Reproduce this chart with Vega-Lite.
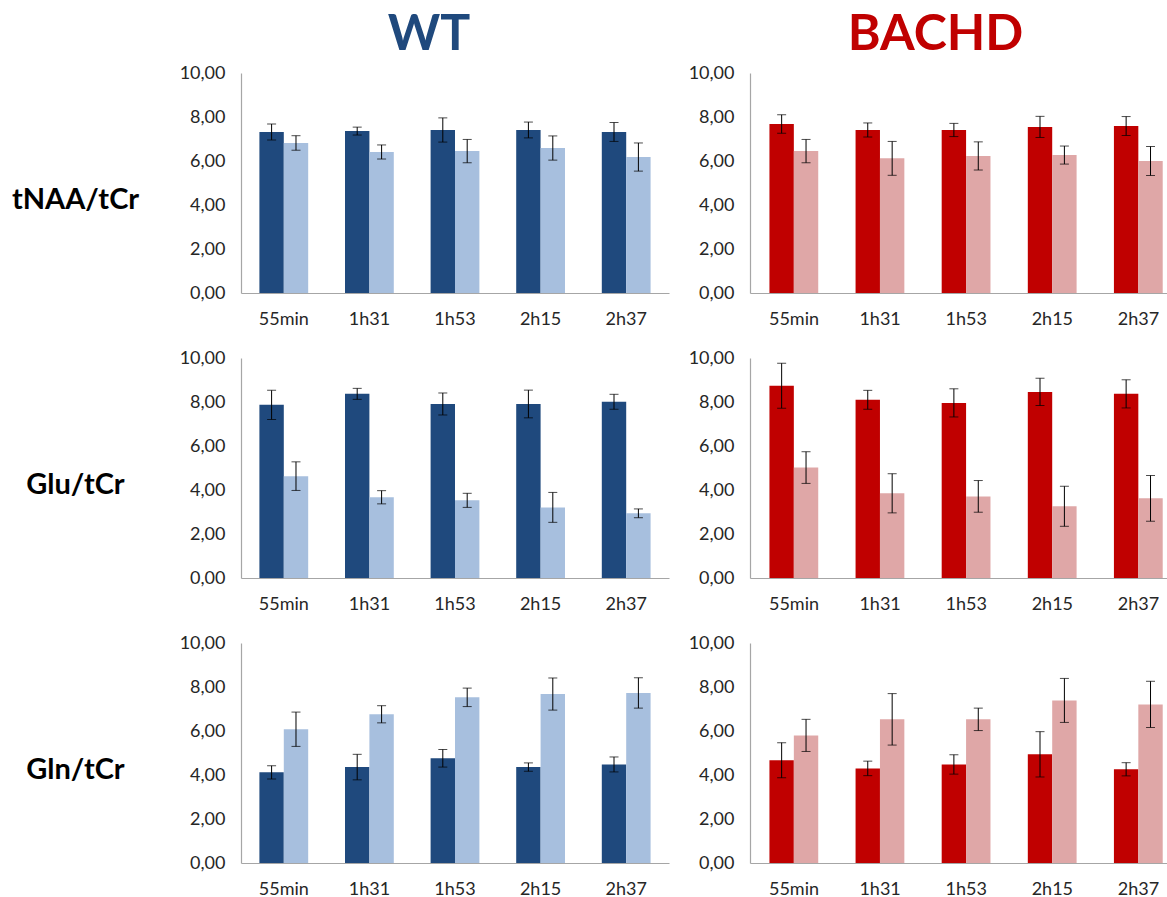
{
  "$schema": "https://vega.github.io/schema/vega-lite/v6.json",
  "padding": {"left": 11, "top": 10, "right": 0, "bottom": 0},
  "background": "white",
  "config": {
    "font": "Lato",
    "view": {"stroke": null},
    "axis": {"grid": false, "ticks": false, "domainColor": "#A6A6A6", "domainWidth": 1.2, "labelFont": "Lato", "labelFontSize": 18, "labelColor": "#262626"},
    "axisX": {"labelAngle": 0, "labelPadding": 17, "title": null},
    "axisY": {"labelPadding": 16}
  },
  "datasets": {
    "d": [
      {"m":"tNAA/tCr","g":"WT","t":"55min","c":"1","v":7.32,"lo":6.96,"hi":7.68},
      {"m":"tNAA/tCr","g":"WT","t":"55min","c":"2","v":6.82,"lo":6.49,"hi":7.15},
      {"m":"tNAA/tCr","g":"WT","t":"1h31","c":"1","v":7.36,"lo":7.18,"hi":7.54},
      {"m":"tNAA/tCr","g":"WT","t":"1h31","c":"2","v":6.41,"lo":6.09,"hi":6.73},
      {"m":"tNAA/tCr","g":"WT","t":"1h53","c":"1","v":7.41,"lo":6.86,"hi":7.96},
      {"m":"tNAA/tCr","g":"WT","t":"1h53","c":"2","v":6.45,"lo":5.92,"hi":6.98},
      {"m":"tNAA/tCr","g":"WT","t":"2h15","c":"1","v":7.41,"lo":7.05,"hi":7.77},
      {"m":"tNAA/tCr","g":"WT","t":"2h15","c":"2","v":6.59,"lo":6.04,"hi":7.14},
      {"m":"tNAA/tCr","g":"WT","t":"2h37","c":"1","v":7.32,"lo":6.89,"hi":7.75},
      {"m":"tNAA/tCr","g":"WT","t":"2h37","c":"2","v":6.18,"lo":5.54,"hi":6.82},
      {"m":"tNAA/tCr","g":"BACHD","t":"55min","c":"1","v":7.68,"lo":7.26,"hi":8.10},
      {"m":"tNAA/tCr","g":"BACHD","t":"55min","c":"2","v":6.45,"lo":5.92,"hi":6.98},
      {"m":"tNAA/tCr","g":"BACHD","t":"1h31","c":"1","v":7.41,"lo":7.09,"hi":7.73},
      {"m":"tNAA/tCr","g":"BACHD","t":"1h31","c":"2","v":6.12,"lo":5.35,"hi":6.89},
      {"m":"tNAA/tCr","g":"BACHD","t":"1h53","c":"1","v":7.41,"lo":7.11,"hi":7.71},
      {"m":"tNAA/tCr","g":"BACHD","t":"1h53","c":"2","v":6.23,"lo":5.59,"hi":6.87},
      {"m":"tNAA/tCr","g":"BACHD","t":"2h15","c":"1","v":7.55,"lo":7.07,"hi":8.03},
      {"m":"tNAA/tCr","g":"BACHD","t":"2h15","c":"2","v":6.27,"lo":5.86,"hi":6.68},
      {"m":"tNAA/tCr","g":"BACHD","t":"2h37","c":"1","v":7.59,"lo":7.16,"hi":8.02},
      {"m":"tNAA/tCr","g":"BACHD","t":"2h37","c":"2","v":6.00,"lo":5.34,"hi":6.66},
      {"m":"Glu/tCr","g":"WT","t":"55min","c":"1","v":7.87,"lo":7.21,"hi":8.53},
      {"m":"Glu/tCr","g":"WT","t":"55min","c":"2","v":4.63,"lo":3.98,"hi":5.28},
      {"m":"Glu/tCr","g":"WT","t":"1h31","c":"1","v":8.37,"lo":8.12,"hi":8.62},
      {"m":"Glu/tCr","g":"WT","t":"1h31","c":"2","v":3.67,"lo":3.37,"hi":3.97},
      {"m":"Glu/tCr","g":"WT","t":"1h53","c":"1","v":7.91,"lo":7.41,"hi":8.41},
      {"m":"Glu/tCr","g":"WT","t":"1h53","c":"2","v":3.53,"lo":3.21,"hi":3.85},
      {"m":"Glu/tCr","g":"WT","t":"2h15","c":"1","v":7.91,"lo":7.28,"hi":8.54},
      {"m":"Glu/tCr","g":"WT","t":"2h15","c":"2","v":3.21,"lo":2.53,"hi":3.89},
      {"m":"Glu/tCr","g":"WT","t":"2h37","c":"1","v":8.01,"lo":7.67,"hi":8.35},
      {"m":"Glu/tCr","g":"WT","t":"2h37","c":"2","v":2.94,"lo":2.74,"hi":3.14},
      {"m":"Glu/tCr","g":"BACHD","t":"55min","c":"1","v":8.74,"lo":7.72,"hi":9.76},
      {"m":"Glu/tCr","g":"BACHD","t":"55min","c":"2","v":5.02,"lo":4.30,"hi":5.74},
      {"m":"Glu/tCr","g":"BACHD","t":"1h31","c":"1","v":8.10,"lo":7.67,"hi":8.53},
      {"m":"Glu/tCr","g":"BACHD","t":"1h31","c":"2","v":3.85,"lo":2.96,"hi":4.74},
      {"m":"Glu/tCr","g":"BACHD","t":"1h53","c":"1","v":7.96,"lo":7.32,"hi":8.60},
      {"m":"Glu/tCr","g":"BACHD","t":"1h53","c":"2","v":3.71,"lo":2.99,"hi":4.43},
      {"m":"Glu/tCr","g":"BACHD","t":"2h15","c":"1","v":8.46,"lo":7.84,"hi":9.08},
      {"m":"Glu/tCr","g":"BACHD","t":"2h15","c":"2","v":3.26,"lo":2.35,"hi":4.17},
      {"m":"Glu/tCr","g":"BACHD","t":"2h37","c":"1","v":8.37,"lo":7.73,"hi":9.01},
      {"m":"Glu/tCr","g":"BACHD","t":"2h37","c":"2","v":3.62,"lo":2.58,"hi":4.66},
      {"m":"Gln/tCr","g":"WT","t":"55min","c":"1","v":4.12,"lo":3.82,"hi":4.42},
      {"m":"Gln/tCr","g":"WT","t":"55min","c":"2","v":6.08,"lo":5.30,"hi":6.86},
      {"m":"Gln/tCr","g":"WT","t":"1h31","c":"1","v":4.36,"lo":3.78,"hi":4.94},
      {"m":"Gln/tCr","g":"WT","t":"1h31","c":"2","v":6.76,"lo":6.37,"hi":7.15},
      {"m":"Gln/tCr","g":"WT","t":"1h53","c":"1","v":4.76,"lo":4.36,"hi":5.16},
      {"m":"Gln/tCr","g":"WT","t":"1h53","c":"2","v":7.53,"lo":7.11,"hi":7.95},
      {"m":"Gln/tCr","g":"WT","t":"2h15","c":"1","v":4.36,"lo":4.17,"hi":4.55},
      {"m":"Gln/tCr","g":"WT","t":"2h15","c":"2","v":7.68,"lo":6.95,"hi":8.41},
      {"m":"Gln/tCr","g":"WT","t":"2h37","c":"1","v":4.48,"lo":4.14,"hi":4.82},
      {"m":"Gln/tCr","g":"WT","t":"2h37","c":"2","v":7.73,"lo":7.04,"hi":8.42},
      {"m":"Gln/tCr","g":"BACHD","t":"55min","c":"1","v":4.67,"lo":3.87,"hi":5.47},
      {"m":"Gln/tCr","g":"BACHD","t":"55min","c":"2","v":5.80,"lo":5.07,"hi":6.53},
      {"m":"Gln/tCr","g":"BACHD","t":"1h31","c":"1","v":4.30,"lo":3.97,"hi":4.63},
      {"m":"Gln/tCr","g":"BACHD","t":"1h31","c":"2","v":6.53,"lo":5.36,"hi":7.70},
      {"m":"Gln/tCr","g":"BACHD","t":"1h53","c":"1","v":4.48,"lo":4.04,"hi":4.92},
      {"m":"Gln/tCr","g":"BACHD","t":"1h53","c":"2","v":6.53,"lo":6.02,"hi":7.04},
      {"m":"Gln/tCr","g":"BACHD","t":"2h15","c":"1","v":4.94,"lo":3.91,"hi":5.97},
      {"m":"Gln/tCr","g":"BACHD","t":"2h15","c":"2","v":7.39,"lo":6.39,"hi":8.39},
      {"m":"Gln/tCr","g":"BACHD","t":"2h37","c":"1","v":4.26,"lo":3.96,"hi":4.56},
      {"m":"Gln/tCr","g":"BACHD","t":"2h37","c":"2","v":7.21,"lo":6.16,"hi":8.26}
    ]
  },
  "data": {"name": "d"},
  "resolve": {"scale": {"color": "independent"}},
  "bounds": "flush",
  "columns": 2,
  "spacing": {"row": 65, "column": 81},
  "concat": [
    {
      "width": 428, "height": 220,
      "title": {"text": "WT", "color": "#1F497D", "fontSize": 50, "fontWeight": "bold", "font": "Lato", "anchor": "middle", "frame": "group", "dx": -26, "offset": -36, "baseline": "alphabetic"},
      "transform": [{"filter": "datum.m === 'tNAA/tCr' && datum.g === 'WT'"}],
      "encoding": {
        "x": {"field": "t", "type": "nominal", "sort": ["55min","1h31","1h53","2h15","2h37"], "scale": {"paddingInner": 0.43, "paddingOuter": 0.215}},
        "xOffset": {"field": "c", "type": "nominal", "scale": {"paddingInner": 0, "paddingOuter": 0}}
      },
      "layer": [
        {"mark": {"type": "bar"}, "encoding": {
          "y": {"field": "v", "type": "quantitative", "scale": {"domain": [0, 10]}, "axis": {"values": [0,2,4,6,8,10], "format": ".2f", "labelExpr": "replace(datum.label, '.', ',')", "title": "tNAA/tCr", "titleAngle": 0, "titleX": -166, "titleY": 126, "titleAlign": "center", "titleBaseline": "middle", "titleFontSize": 29, "titleFontWeight": "bold", "titleColor": "#000000", "titleFont": "Lato"}},
          "color": {"field": "c", "type": "nominal", "scale": {"domain": ["1","2"], "range": ["#1F497D", "#A7BFDE"]}, "legend": null}}},
        {"mark": {"type": "rule", "color": "#000000", "strokeWidth": 1}, "encoding": {"y": {"field": "lo", "type": "quantitative"}, "y2": {"field": "hi"}}},
        {"mark": {"type": "tick", "color": "#000000", "size": 9, "thickness": 1}, "encoding": {"y": {"field": "lo", "type": "quantitative"}}},
        {"mark": {"type": "tick", "color": "#000000", "size": 9, "thickness": 1}, "encoding": {"y": {"field": "hi", "type": "quantitative"}}}
      ]
    },
    {
      "width": 417, "height": 220,
      "title": {"text": "BACHD", "color": "#C00000", "fontSize": 50, "fontWeight": "bold", "font": "Lato", "anchor": "middle", "frame": "group", "dx": -23, "offset": -36, "baseline": "alphabetic"},
      "transform": [{"filter": "datum.m === 'tNAA/tCr' && datum.g === 'BACHD'"}],
      "encoding": {
        "x": {"field": "t", "type": "nominal", "sort": ["55min","1h31","1h53","2h15","2h37"], "scale": {"paddingInner": 0.43, "paddingOuter": 0.136, "align": 0.83}},
        "xOffset": {"field": "c", "type": "nominal", "scale": {"paddingInner": 0, "paddingOuter": 0}}
      },
      "layer": [
        {"mark": {"type": "bar"}, "encoding": {
          "y": {"field": "v", "type": "quantitative", "scale": {"domain": [0, 10]}, "axis": {"values": [0,2,4,6,8,10], "format": ".2f", "labelExpr": "replace(datum.label, '.', ',')", "title": null}},
          "color": {"field": "c", "type": "nominal", "scale": {"domain": ["1","2"], "range": ["#C00000", "#DFA7A7"]}, "legend": null}}},
        {"mark": {"type": "rule", "color": "#000000", "strokeWidth": 1}, "encoding": {"y": {"field": "lo", "type": "quantitative"}, "y2": {"field": "hi"}}},
        {"mark": {"type": "tick", "color": "#000000", "size": 9, "thickness": 1}, "encoding": {"y": {"field": "lo", "type": "quantitative"}}},
        {"mark": {"type": "tick", "color": "#000000", "size": 9, "thickness": 1}, "encoding": {"y": {"field": "hi", "type": "quantitative"}}}
      ]
    },
    {
      "width": 428, "height": 220,
      "transform": [{"filter": "datum.m === 'Glu/tCr' && datum.g === 'WT'"}],
      "encoding": {
        "x": {"field": "t", "type": "nominal", "sort": ["55min","1h31","1h53","2h15","2h37"], "scale": {"paddingInner": 0.43, "paddingOuter": 0.215}},
        "xOffset": {"field": "c", "type": "nominal", "scale": {"paddingInner": 0, "paddingOuter": 0}}
      },
      "layer": [
        {"mark": {"type": "bar"}, "encoding": {
          "y": {"field": "v", "type": "quantitative", "scale": {"domain": [0, 10]}, "axis": {"values": [0,2,4,6,8,10], "format": ".2f", "labelExpr": "replace(datum.label, '.', ',')", "title": "Glu/tCr", "titleAngle": 0, "titleX": -166, "titleY": 126, "titleAlign": "center", "titleBaseline": "middle", "titleFontSize": 29, "titleFontWeight": "bold", "titleColor": "#000000", "titleFont": "Lato"}},
          "color": {"field": "c", "type": "nominal", "scale": {"domain": ["1","2"], "range": ["#1F497D", "#A7BFDE"]}, "legend": null}}},
        {"mark": {"type": "rule", "color": "#000000", "strokeWidth": 1}, "encoding": {"y": {"field": "lo", "type": "quantitative"}, "y2": {"field": "hi"}}},
        {"mark": {"type": "tick", "color": "#000000", "size": 9, "thickness": 1}, "encoding": {"y": {"field": "lo", "type": "quantitative"}}},
        {"mark": {"type": "tick", "color": "#000000", "size": 9, "thickness": 1}, "encoding": {"y": {"field": "hi", "type": "quantitative"}}}
      ]
    },
    {
      "width": 417, "height": 220,
      "transform": [{"filter": "datum.m === 'Glu/tCr' && datum.g === 'BACHD'"}],
      "encoding": {
        "x": {"field": "t", "type": "nominal", "sort": ["55min","1h31","1h53","2h15","2h37"], "scale": {"paddingInner": 0.43, "paddingOuter": 0.136, "align": 0.83}},
        "xOffset": {"field": "c", "type": "nominal", "scale": {"paddingInner": 0, "paddingOuter": 0}}
      },
      "layer": [
        {"mark": {"type": "bar"}, "encoding": {
          "y": {"field": "v", "type": "quantitative", "scale": {"domain": [0, 10]}, "axis": {"values": [0,2,4,6,8,10], "format": ".2f", "labelExpr": "replace(datum.label, '.', ',')", "title": null}},
          "color": {"field": "c", "type": "nominal", "scale": {"domain": ["1","2"], "range": ["#C00000", "#DFA7A7"]}, "legend": null}}},
        {"mark": {"type": "rule", "color": "#000000", "strokeWidth": 1}, "encoding": {"y": {"field": "lo", "type": "quantitative"}, "y2": {"field": "hi"}}},
        {"mark": {"type": "tick", "color": "#000000", "size": 9, "thickness": 1}, "encoding": {"y": {"field": "lo", "type": "quantitative"}}},
        {"mark": {"type": "tick", "color": "#000000", "size": 9, "thickness": 1}, "encoding": {"y": {"field": "hi", "type": "quantitative"}}}
      ]
    },
    {
      "width": 428, "height": 220,
      "transform": [{"filter": "datum.m === 'Gln/tCr' && datum.g === 'WT'"}],
      "encoding": {
        "x": {"field": "t", "type": "nominal", "sort": ["55min","1h31","1h53","2h15","2h37"], "scale": {"paddingInner": 0.43, "paddingOuter": 0.215}},
        "xOffset": {"field": "c", "type": "nominal", "scale": {"paddingInner": 0, "paddingOuter": 0}}
      },
      "layer": [
        {"mark": {"type": "bar"}, "encoding": {
          "y": {"field": "v", "type": "quantitative", "scale": {"domain": [0, 10]}, "axis": {"values": [0,2,4,6,8,10], "format": ".2f", "labelExpr": "replace(datum.label, '.', ',')", "title": "Gln/tCr", "titleAngle": 0, "titleX": -166, "titleY": 126, "titleAlign": "center", "titleBaseline": "middle", "titleFontSize": 29, "titleFontWeight": "bold", "titleColor": "#000000", "titleFont": "Lato"}},
          "color": {"field": "c", "type": "nominal", "scale": {"domain": ["1","2"], "range": ["#1F497D", "#A7BFDE"]}, "legend": null}}},
        {"mark": {"type": "rule", "color": "#000000", "strokeWidth": 1}, "encoding": {"y": {"field": "lo", "type": "quantitative"}, "y2": {"field": "hi"}}},
        {"mark": {"type": "tick", "color": "#000000", "size": 9, "thickness": 1}, "encoding": {"y": {"field": "lo", "type": "quantitative"}}},
        {"mark": {"type": "tick", "color": "#000000", "size": 9, "thickness": 1}, "encoding": {"y": {"field": "hi", "type": "quantitative"}}}
      ]
    },
    {
      "width": 417, "height": 220,
      "transform": [{"filter": "datum.m === 'Gln/tCr' && datum.g === 'BACHD'"}],
      "encoding": {
        "x": {"field": "t", "type": "nominal", "sort": ["55min","1h31","1h53","2h15","2h37"], "scale": {"paddingInner": 0.43, "paddingOuter": 0.136, "align": 0.83}},
        "xOffset": {"field": "c", "type": "nominal", "scale": {"paddingInner": 0, "paddingOuter": 0}}
      },
      "layer": [
        {"mark": {"type": "bar"}, "encoding": {
          "y": {"field": "v", "type": "quantitative", "scale": {"domain": [0, 10]}, "axis": {"values": [0,2,4,6,8,10], "format": ".2f", "labelExpr": "replace(datum.label, '.', ',')", "title": null}},
          "color": {"field": "c", "type": "nominal", "scale": {"domain": ["1","2"], "range": ["#C00000", "#DFA7A7"]}, "legend": null}}},
        {"mark": {"type": "rule", "color": "#000000", "strokeWidth": 1}, "encoding": {"y": {"field": "lo", "type": "quantitative"}, "y2": {"field": "hi"}}},
        {"mark": {"type": "tick", "color": "#000000", "size": 9, "thickness": 1}, "encoding": {"y": {"field": "lo", "type": "quantitative"}}},
        {"mark": {"type": "tick", "color": "#000000", "size": 9, "thickness": 1}, "encoding": {"y": {"field": "hi", "type": "quantitative"}}}
      ]
    }
  ]
}
